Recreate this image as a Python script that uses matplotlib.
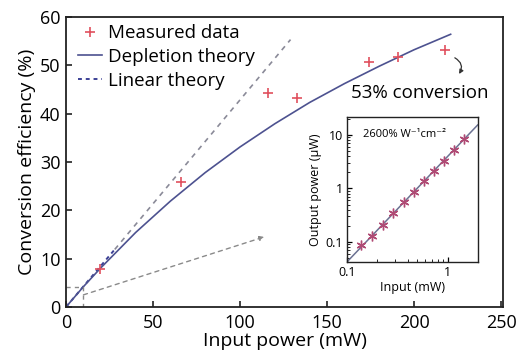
import numpy as np
import matplotlib
matplotlib.use('Agg')
import matplotlib.pyplot as plt
from matplotlib.ticker import FixedLocator, FixedFormatter, LogLocator, NullFormatter

plt.rcParams['font.family'] = ['Open Sans', 'DejaVu Sans']

# main panel data
meas_p = [19.5, 66, 116, 133, 174, 191, 218]
meas_eta = [7.9, 25.8, 44.3, 43.2, 50.7, 51.8, 53.1]

depl_p = [0, 10, 20, 40, 60, 80, 100, 120, 140, 160, 180, 200, 221]
depl_eta = [0, 4.2, 8.1, 15.4, 21.9, 27.8, 33.1, 37.9, 42.3, 46.2, 49.8, 53.2, 56.4]

lin_p_near = [0, 28]
lin_eta_near = [0, 11.9]
lin_p_far = [28, 129]
lin_eta_far = [11.9, 55.3]

# inset data
in_p = [0.137, 0.176, 0.226, 0.288, 0.366, 0.459, 0.581, 0.734, 0.914, 1.146, 1.436]
out_p = [0.089, 0.13, 0.211, 0.355, 0.554, 0.866, 1.37, 2.11, 3.30, 5.25, 8.3]
fit_in = [0.1, 1.97]
fit_out = [0.042, 15.4]

fig = plt.figure(figsize=(5.2, 3.59), dpi=100)
ax = fig.add_axes([0.127, 0.145, 0.84, 0.808])

spine_c = '#222222'
for s in ax.spines.values():
    s.set_linewidth(1.3)
    s.set_color(spine_c)

ax.plot(lin_p_far, lin_eta_far, ls=(0, (3, 3)), color='#8a8a98', lw=1.2)
ax.plot(lin_p_near, lin_eta_near, ls=(0, (2, 2)), color='#3c4196', lw=1.4, label='Linear theory')
ax.plot(depl_p, depl_eta, color='#4d5290', lw=1.2, label='Depletion theory')
ax.plot(meas_p, meas_eta, ls='none', marker='+', ms=7, mew=1.2, color='#e0505e', label='Measured data')

# zoom box and pointer
ax.plot([0, 10, 10], [4.1, 4.1, 0], ls=(0, (3, 3)), color='#8a8a8a', lw=1.0)
ax.annotate('', xy=(114, 14.5), xytext=(10, 2.5),
            arrowprops=dict(arrowstyle='-|>', ls=(0, (3, 3)), color='#8a8a8a', lw=1.0,
                            mutation_scale=7, shrinkA=0, shrinkB=0))

ax.text(164, 44.3, '53% conversion', fontsize=13.5, va='center', ha='left')
ax.annotate('', xy=(225, 47.7), xytext=(222, 51.8),
            arrowprops=dict(arrowstyle='-|>', color='#333333', lw=0.9,
                            connectionstyle='arc3,rad=-0.6', mutation_scale=6))

ax.set_xlim(0, 251)
ax.set_ylim(0, 60)
ax.set_xticks([0, 50, 100, 150, 200, 250])
ax.set_yticks([0, 10, 20, 30, 40, 50, 60])
ax.tick_params(direction='in', length=4, width=1.2, labelsize=13, color=spine_c)
ax.tick_params(axis='x', pad=5)
ax.tick_params(axis='y', pad=4)
ax.set_xlabel('Input power (mW)', fontsize=14, labelpad=0)
ax.set_ylabel('Conversion efficiency (%)', fontsize=14, labelpad=3)

h, l = ax.get_legend_handles_labels()
order = [2, 1, 0]
ax.legend([h[i] for i in order], [l[i] for i in order], loc='upper left', frameon=False,
          fontsize=13.5, handlelength=1.3, handletextpad=0.3, labelspacing=0.3,
          borderaxespad=0.0, bbox_to_anchor=(0.01, 1.0))

# inset
ins = fig.add_axes([0.667, 0.270, 0.252, 0.404])
for s in ins.spines.values():
    s.set_linewidth(1.0)
    s.set_color(spine_c)
ins.set_xscale('log')
ins.set_yscale('log')
ins.plot(fit_in, fit_out, color='#6b7192', lw=1.1)
ins.plot(in_p, out_p, ls='none', marker=(6, 2, 0), ms=7, mew=1.0, color='#b04a74')
ins.set_xlim(0.1, 1.98)
ins.set_ylim(0.042, 21.7)
ins.xaxis.set_major_locator(FixedLocator([0.1, 1]))
ins.xaxis.set_major_formatter(FixedFormatter(['0.1', '1']))
ins.yaxis.set_major_locator(FixedLocator([0.1, 1, 10]))
ins.yaxis.set_major_formatter(FixedFormatter(['0.1', '1', '10']))
ins.xaxis.set_minor_locator(LogLocator(base=10, subs=np.arange(2, 10)))
ins.yaxis.set_minor_locator(LogLocator(base=10, subs=np.arange(2, 10)))
ins.xaxis.set_minor_formatter(NullFormatter())
ins.yaxis.set_minor_formatter(NullFormatter())
ins.tick_params(which='major', direction='in', length=3.5, width=0.9, labelsize=9, pad=3)
ins.tick_params(which='minor', direction='in', length=2, width=0.6)
ins.set_xlabel('Input (mW)', fontsize=9, labelpad=1)
ins.set_ylabel('Output power (\u03bcW)', fontsize=9, labelpad=2)
ins.text(0.12, 0.88, '2600% W\u207b\u00b9cm\u207b\u00b2', transform=ins.transAxes,
         fontsize=8, va='center', ha='left')

fig.savefig('out.png', dpi=100)
